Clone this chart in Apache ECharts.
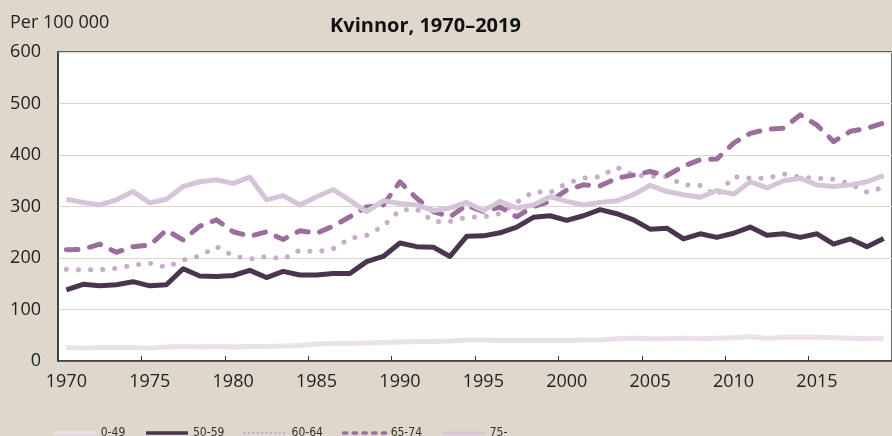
<!DOCTYPE html>
<html>
<head>
<meta charset="utf-8">
<script src="https://cdn.jsdelivr.net/npm/echarts@6/dist/echarts.min.js"></script>
<style>
html,body{margin:0;padding:0;background:#DDD7CC;}
#chart{width:892px;height:436px;}
</style>
</head>
<body>
<div id="chart"></div>
<script>
var years = [];
for (var y = 1970; y <= 2019; y++) years.push(String(y));

var seriesNames = ['0-49', '50-59', '60-64', '65-74', '75-'];

var s0_49 = [26,25,26,26,26,25,27,28,27,28, 27,28,28,29,30,33,34,34,35,36, 37,38,38,39,41,41,40,40,40,40, 40,41,41,43,44,43,43,44,43,44, 45,47,44,46,46,46,45,44,43,44];
var s50_59 = [138,149,146,148,154,146,148,179,165,164, 166,176,162,174,167,167,170,170,193,203, 229,222,221,203,242,243,249,260,279,282, 273,282,294,286,274,256,258,237,247,240, 248,260,244,247,240,247,227,237,222,238];
var s60_64 = [178,177,177,180,186,190,182,196,204,222, 204,198,203,198,215,212,218,238,244,262, 293,295,271,271,279,280,286,308,329,327, 345,355,358,376,361,359,358,342,341,321, 358,355,355,363,357,355,353,344,328,337];
var s65_74 = [216,217,227,211,222,225,254,235,262,274, 251,242,251,236,253,248,262,280,299,303, 348,316,290,280,303,290,299,280,300,310, 332,342,340,355,361,368,360,378,391,392, 423,442,450,452,478,458,426,446,452,462];
var s75 = [314,308,303,313,329,307,314,339,348,352, 345,357,313,321,303,319,333,312,290,311, 306,303,292,297,308,292,310,297,303,319, 310,303,308,311,323,341,329,323,318,331, 324,348,336,350,355,342,339,342,348,360];

var yTicks = [0, 100, 200, 300, 400, 500, 600];

var colors = ['#EAE1EB', '#4B3450', '#C8ACCA', '#9B6E9C', '#D6C4D8'];
var font = '"Open Sans", "DejaVu Sans", sans-serif';

var chart = echarts.init(document.getElementById('chart'), null, {renderer: 'canvas'});

function mk(name, data, color, lineStyle) {
  return {
    name: name, type: 'line', data: data, symbol: 'none', smooth: false,
    lineStyle: Object.assign({color: color, width: 5, join: 'round'}, lineStyle || {}),
    itemStyle: {color: color}
  };
}

function leg(name, lineStyle) {
  return {name: name, lineStyle: lineStyle, itemStyle: {opacity: 0, borderWidth: 0}};
}

chart.setOption({
  animation: false,
  backgroundColor: '#DDD7CC',
  title: [
    {text: 'Kvinnor, 1970–2019', left: 330, top: 16, padding: 0,
     textStyle: {fontFamily: font, fontSize: 20, fontWeight: 'bold', color: '#111'}},
    {text: 'Per 100 000', left: 10, top: 14, padding: 0,
     textStyle: {fontFamily: font, fontSize: 18, fontWeight: 'normal', color: '#222'}}
  ],
  grid: {left: 58, top: 52, width: 846.5, height: 309, show: true, backgroundColor: '#FFFFFF', borderColor: '#3A3A3A', borderWidth: 1.5},
  legend: {
    left: 47, top: 422, itemWidth: 42, itemHeight: 8, itemGap: 19,
    textStyle: {fontFamily: '"Liberation Sans Narrow", "DejaVu Sans Condensed", "Roboto", sans-serif', fontSize: 12, color: '#333', width: 30},
    data: [
      leg('0-49', {width: 3.5, color: colors[0]}),
      leg('50-59', {width: 3.5, color: colors[1]}),
      leg('60-64', {width: 2.3, color: colors[2], type: [0.1, 4.3], cap: 'round'}),
      leg('65-74', {width: 3.5, color: colors[3], type: [3.2, 6.5], cap: 'round'}),
      leg('75-', {width: 3.5, color: colors[4]})
    ]
  },
  xAxis: {
    type: 'category', data: years, boundaryGap: true,
    axisLine: {lineStyle: {color: '#3A3A3A', width: 1.5}},
    axisTick: {show: true, interval: 4, inside: true, length: 5, lineStyle: {color: '#3A3A3A'}},
    axisLabel: {interval: 4, margin: 12, fontFamily: font, fontSize: 18, color: '#222'},
    splitLine: {show: false}
  },
  yAxis: {
    type: 'value', min: yTicks[0], max: yTicks[yTicks.length - 1], interval: 100,
    axisLine: {show: true, lineStyle: {color: '#3A3A3A', width: 1.5}},
    axisTick: {show: false},
    axisLabel: {margin: 17, fontFamily: font, fontSize: 18, color: '#222'},
    splitLine: {lineStyle: {color: '#DDD6CC', width: 1}}
  },
  series: [
    mk('0-49', s0_49, colors[0]),
    mk('50-59', s50_59, colors[1]),
    mk('60-64', s60_64, colors[2], {type: [0.1, 12], cap: 'round'}),
    mk('65-74', s65_74, colors[3], {type: [11.7, 11.7], cap: 'round'}),
    mk('75-', s75, colors[4])
  ]
});
</script>
</body>
</html>
